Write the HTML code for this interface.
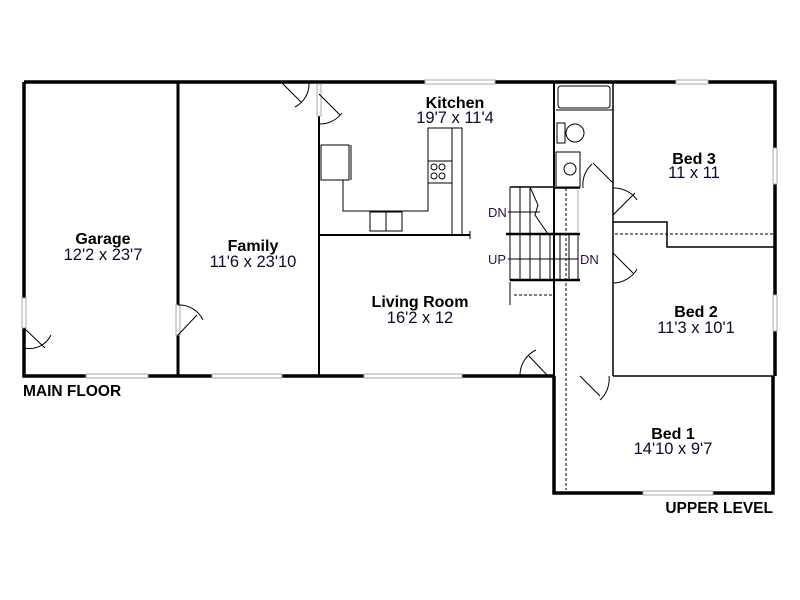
<!DOCTYPE html>
<html><head><meta charset="utf-8"><style>
html,body{margin:0;padding:0;background:#fff;}
svg{display:block}
text{font-family:"Liberation Sans",sans-serif;}
.n{font-weight:bold;font-size:16px;fill:#000;text-anchor:middle}
.d{font-size:16.5px;fill:#0a0a30;text-anchor:middle}
.s{font-size:13px;fill:#301040}
</style></head><body>
<svg width="800" height="600" viewBox="0 0 800 600" xmlns="http://www.w3.org/2000/svg">
<g stroke="#000" fill="none">
<path d="M24 82 H775 V376" stroke-width="3.5"/>
<path d="M24 82 V376 H555" stroke-width="3.5"/>
<line x1="178" y1="82" x2="178" y2="376" stroke-width="3"/>
<line x1="319" y1="82" x2="319" y2="376" stroke-width="2"/>
<line x1="319" y1="235" x2="470" y2="235" stroke-width="2"/>
<line x1="554" y1="82" x2="554" y2="376" stroke-width="2"/>
<path d="M554 376 V493 H773 V376" stroke-width="3.5"/>
<line x1="613" y1="376" x2="773" y2="376" stroke-width="1.5"/>
<line x1="613" y1="82" x2="613" y2="376" stroke-width="1.5"/>
<path d="M613 222 H667 V247 H775" stroke-width="1.5"/>
<line x1="554" y1="188" x2="580" y2="188" stroke-width="1.5"/>
<line x1="510" y1="187" x2="554" y2="187" stroke-width="1.5"/>
</g>
<g fill="#fff" stroke="#aaa" stroke-width="1">
<rect x="86" y="374" width="62" height="4"/>
<rect x="212" y="374" width="70" height="4"/>
<rect x="364" y="374" width="98" height="4"/>
<rect x="425" y="80" width="70" height="4"/>
<rect x="643" y="491" width="70" height="4"/>
<rect x="676" y="80" width="32" height="4"/>
<rect x="773" y="148" width="4" height="36"/>
<rect x="773" y="295" width="4" height="36"/>
<rect x="22" y="298" width="4" height="30"/>
<rect x="176" y="305" width="4" height="30"/>
<rect x="317" y="84" width="4" height="32"/>
</g>
<g stroke="#000" stroke-width="1" fill="none">
<path d="M24 328 L45 348 M24 348 A24 24 0 0 0 51 335"/>
<path d="M178 335 L197 315 M178 305 A26 26 0 0 1 203 320"/>
<path d="M281 82 L301 102 M309 82 A26 26 0 0 1 295 107"/>
<path d="M319 94 L340 115 M319 124 A28 28 0 0 0 342 113"/>
<path d="M528 355 L548 376 M520 376 A28 28 0 0 1 536 350"/>
<path d="M593 163 L613 183 M583 188 A28 28 0 0 1 592 164"/>
<path d="M613 215 L635 193 M613 188 A28 28 0 0 1 637 200"/>
<path d="M613 253 L633 273 M613 283 A28 28 0 0 0 637 269"/>
<path d="M580 376 L600 396 M609 376 A28 28 0 0 1 600 400"/>
</g>
<g stroke="#000" stroke-width="1" fill="none">
<rect x="321" y="145" width="28" height="35"/>
<line x1="351" y1="145" x2="351" y2="180"/>
<path d="M343 180 V211 H428 V128 H462 V235"/>
<line x1="452" y1="128" x2="452" y2="235"/>
<rect x="428" y="161" width="24" height="22"/>
<circle cx="434" cy="167" r="3"/><circle cx="442" cy="167" r="3"/>
<circle cx="434" cy="176" r="3"/><circle cx="442" cy="176" r="3"/>
<rect x="370" y="212" width="32" height="19"/>
<line x1="386" y1="212" x2="386" y2="231"/>
<line x1="470" y1="231" x2="470" y2="239"/>
<rect x="558" y="86" width="52" height="22" rx="3"/>
<line x1="556" y1="110" x2="613" y2="110"/>
<rect x="557" y="123" width="8" height="20"/>
<circle cx="575" cy="133" r="9"/>
<rect x="556" y="152" width="24" height="35"/>
<circle cx="570" cy="169" r="6"/>
<!-- stairs -->
<path d="M510 187 V234 M530 187 L538 205 L535 215 L548 234"/>
<line x1="520" y1="187" x2="520" y2="234"/>
<line x1="530" y1="187" x2="530" y2="234"/>
<rect x="510" y="234" width="68" height="46"/>
<line x1="506" y1="234" x2="580" y2="234" stroke-width="2.5"/>
<line x1="510" y1="280" x2="580" y2="280" stroke-width="2.5"/>
<line x1="520" y1="234" x2="520" y2="280"/><line x1="530" y1="234" x2="530" y2="280"/>
<line x1="540" y1="234" x2="540" y2="280"/><line x1="550" y1="234" x2="550" y2="280"/>
<line x1="560" y1="234" x2="560" y2="280"/><line x1="569" y1="234" x2="569" y2="280"/>
<line x1="510" y1="282" x2="510" y2="305"/>
<line x1="508" y1="212" x2="540" y2="212"/>
<line x1="508" y1="259" x2="578" y2="259"/>
<line x1="578" y1="190" x2="578" y2="232" stroke="#aaa"/>
</g>
<g stroke="#000" stroke-width="1" stroke-dasharray="3,2" fill="none">
<line x1="615" y1="234" x2="773" y2="234"/>
<line x1="514" y1="295" x2="553" y2="295"/>
<line x1="566" y1="188" x2="566" y2="490"/>
</g>
<text class="n" x="103" y="244">Garage</text><text class="d" x="103" y="260">12'2 x 23'7</text>
<text class="n" x="253" y="251">Family</text><text class="d" x="253" y="267">11'6 x 23'10</text>
<text class="n" x="455" y="108">Kitchen</text><text class="d" x="455" y="123">19'7 x 11'4</text>
<text class="n" x="420" y="307">Living Room</text><text class="d" x="420" y="323">16'2 x 12</text>
<text class="n" x="694" y="164">Bed 3</text><text class="d" x="694" y="178">11 x 11</text>
<text class="n" x="696" y="317">Bed 2</text><text class="d" x="696" y="333">11'3 x 10'1</text>
<text class="n" x="673" y="439">Bed 1</text><text class="d" x="673" y="454">14'10 x 9'7</text>
<text class="s" x="488" y="217">DN</text>
<text class="s" x="488" y="264">UP</text>
<text class="s" x="580" y="264">DN</text>
<text x="23" y="396" style="font-weight:bold;font-size:15.5px">MAIN FLOOR</text>
<text x="773" y="513" style="font-weight:bold;font-size:15.5px;text-anchor:end">UPPER LEVEL</text>
</svg>
</body></html>
